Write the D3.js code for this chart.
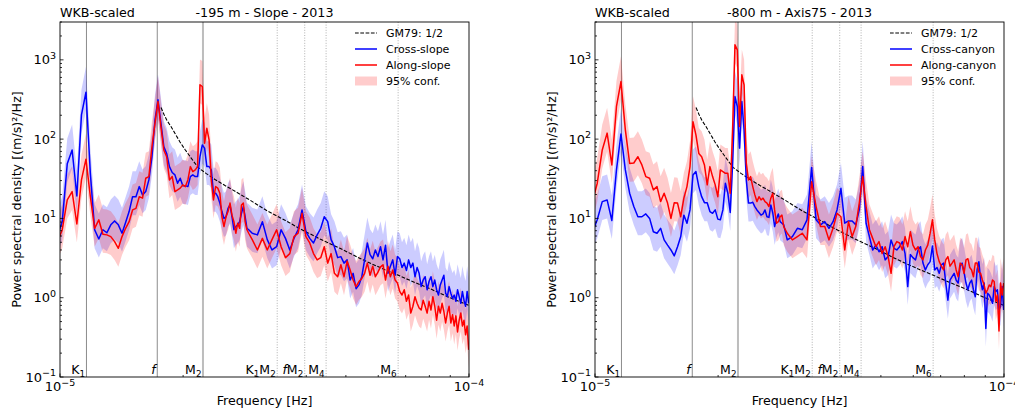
<!DOCTYPE html>
<html lang="en">
<head>
<meta charset="UTF-8">
<title>WKB-scaled velocity spectra</title>
<script src="https://d3js.org/d3.v7.min.js"></script>
<style>
  body { margin: 0; background: #fff; }
  svg { display: block; font-family: "DejaVu Sans", sans-serif; }
  .tick-label { font-size: 13px; fill: #000; }
  .title { font-size: 12.7px; fill: #000; }
  .axis-label { font-size: 12.7px; fill: #000; }
  .legend text { font-size: 11px; fill: #000; }
  .tide-label { font-size: 12.5px; fill: #000; }
</style>
</head>
<body>
<script>
// spectral resolution (40-day segments) and the frequency bins drawn
const df = 1 / (40 * 86400);
const kIndex = d3.range(34, 101).concat(d3.range(102, 346, 3));

// -195 m, Slope
const slopeCross = [
  5.9, 9.1, 48.8, 73, 19.2, 202, 391, 37, 7.2, 5.5, 7.2, 6.6, 8.3, 9.3, 8.3, 6.5, 8.9,
  12.2, 18.8, 18.8, 25.2, 19.8, 21.8, 30.6, 60.3, 175, 313, 159, 80.5, 66, 45, 37.9, 35.4,
  27.8, 32.1, 25.9, 25.9, 25.2, 33.7, 35.4, 33.7, 33.7, 60, 84.5, 76.9, 45, 45, 40.9, 20.8,
  20.8, 18.8, 15.6, 12.2, 10, 10.5, 13.4, 14.8, 10.5, 7.2, 7.9, 8.3, 9.1, 11.6, 14.1, 10.5,
  7.5, 7.2,
  6.5, 6.2, 9.1, 5.4, 4.0, 4.4, 7.2, 5.6, 4.0, 5.6, 7.2, 12.8, 6.8, 5.6, 4.9, 6.2, 7.5,
  10.5, 9.1, 5.4, 4.4, 3.2, 3.3, 2.73, 3.0, 1.67, 2.03, 1.3, 1.45, 1.84, 3.0, 4.9, 3.5,
  3.1, 4.0, 3.3, 4.4, 3.0, 4.6, 2.03, 2.5, 3.0, 1.92, 3.3, 3.1, 2.4, 2.73, 2.2, 3.0, 2.4,
  2.73, 1.84, 2.4, 2.03, 1.38, 1.67, 1.84, 1.26, 1.6, 1.84, 1.38, 1.67, 1.26, 1.08, 1.45,
  1.67, 1.92, 1.14, 1.03, 1.38, 1.14, 0.98, 1.08, 0.9, 1.26, 1.03, 0.85, 1.2, 0.93, 0.78,
  1.2, 0.85
];
const slopeAlong = [
  4.9, 7.2, 17.1, 21.8, 8.5, 30.6, 55.9, 18.8, 7.5, 9.6, 6.3, 6.2, 5.9, 5.1, 4.2, 5.9, 7.5,
  9.1, 12.8, 13.4, 18.8, 18, 32.1, 33.7, 80.5, 159, 298, 144, 73, 60, 30.6, 33.7, 21.8,
  22.9, 24.1, 26.5, 25.2, 30.6, 45, 39, 40.9, 45, 484, 461, 88.9, 137, 98, 30.6, 17.1,
  25.2, 24.1, 20.8, 10.5, 7.9, 10.5, 12.2, 15.6, 11, 9.1, 6.5, 8.7, 7.5, 14.8, 15.6, 9.1,
  7.2, 6.5,
  5.4, 4.0, 5.6, 4.0, 5.4, 7.2, 4.4, 3.2, 3.6, 5.9, 6.5, 11.6, 5.9, 4.9, 3.6, 3.0, 3.2,
  4.4, 2.73, 3.6, 2.03, 1.84, 2.6, 1.84, 2.9, 2.24, 1.67, 1.38, 1.6, 1.75, 2.03, 2.73, 1.92,
  2.5, 1.84, 2.1, 2.45, 2.6, 1.67, 2.5, 1.84, 2.24, 1.67, 1.53, 1.2, 1.08, 1.26, 0.9, 1.08,
  0.64, 0.78, 1.03, 0.85, 0.74, 0.7, 0.93, 0.78, 0.64, 0.9, 0.7, 1.03, 0.78, 0.52, 0.78,
  0.64, 0.85, 0.67, 0.48, 0.64, 0.78, 0.48, 0.61, 0.44, 0.59, 0.37, 0.52, 0.64, 0.44, 0.52,
  0.34, 0.44, 0.22
];

// -800 m, Axis75
const canyonCross = [
  6.5, 9.6, 16.3, 17.1, 9.4, 40.9, 116, 40.9, 20.8, 14.1, 10.5, 10.5, 11.4, 10, 6.8, 6.5,
  7.5, 5.36, 4.6, 4.0, 3.37, 4.4, 5.9, 11, 8.7, 12.8, 35.4, 39, 25.2, 18.8, 15.8, 15.8,
  12.2, 11.6, 12.8, 9.8, 9.6, 12.8, 27.8, 20.8, 11.9, 49.4, 344, 258, 77, 298, 131, 30.6,
  15.6, 15.6, 16, 14.1, 12.8, 11.9, 11, 11.4, 12.8, 10.5, 10.3, 14.8, 11.8, 7.9, 9.8, 11.4,
  9.1, 8.7, 8.3,
  5.36, 5.9, 7.5, 7.2, 9.6, 44, 9.6, 8.3, 9.1, 7.5, 9.1, 12.8, 24, 8.7, 9.3, 9.3, 8.3,
  12.8, 45, 8.7, 5.9, 4.0, 4.6, 3.8, 4.4, 3.0, 3.3, 5.36, 4.2, 4.0, 4.4, 5.1, 3.6, 1.38,
  3.5, 3.2, 3.0, 4.0, 4.4, 2.73, 2.24, 2.6, 2.85, 4.5, 2.24, 2.4, 2.03, 2.6, 2.73, 1.53,
  0.93, 1.67, 1.84, 2.03, 1.67, 1.53, 2.5, 2.73, 2.1, 1.53, 1.26, 1.53, 1.67, 1.26, 1.03,
  2.24, 2.85, 1.67, 1.26, 1.53, 0.41, 1.14, 1.08, 0.98, 0.85, 1.38, 1.2, 1.26, 0.7, 0.78,
  1.38, 0.7
];
const canyonAlong = [
  15.6, 27.8, 73, 119, 47.3, 258, 532, 131, 49.4, 50, 60, 47.3, 33.7, 32.1, 22.9, 25.2,
  16.3, 20.8, 15.6, 10, 15.8, 15.6, 10.5, 18, 25.2, 45, 166, 113, 66, 60, 47.3, 26.5, 45,
  33.7, 26.5, 18.8, 40.9, 39, 37.1, 37.1, 20.8, 131, 1546, 1337, 144, 647, 484, 49.4,
  30.6, 33.7, 25.2, 19.8, 16.3, 18.8, 17.1, 18, 16.3, 15.6, 14.1, 18, 20.8, 12.8, 8.7, 9.1,
  10.5, 11, 7.9,
  6.5, 5.36, 5.9, 6.5, 5.36, 29, 14.1, 7.9, 7.9, 5.36, 7.5, 11.6, 10.5, 4.0, 9.1, 5.9, 7.9,
  15.6, 33.7, 14.1, 7.2, 5.6, 4.4, 5.1, 3.6, 4.4, 3.3, 2.03, 4.4, 5.1, 4.9, 4.0, 5.9, 4.4,
  6.8, 4.6, 4.0, 4.4, 3.3, 3.0, 4.0, 4.6, 6.5, 9.6, 5.36, 3.6, 2.85, 2.5, 2.24, 3.0, 3.3,
  2.5, 2.73, 3.0, 2.24, 1.84, 2.73, 2.6, 2.03, 3.0, 3.1, 2.4, 2.24, 1.84, 2.73, 2.73, 2.1,
  2.03, 1.67, 1.45, 1.14, 1.26, 1.45, 1.38, 1.67, 1.6, 0.9, 1.08, 0.38, 1.53, 1.08, 1.53
];

// GM79 reference level (1/2)
const gmFreq = [1.766e-5, 1.796e-5, 1.826e-5, 1.868e-5, 1.911e-5, 1.965e-5, 2.021e-5,
  2.091e-5, 2.175e-5, 2.275e-5, 2.393e-5, 2.532e-5, 2.679e-5, 2.914e-5, 3.207e-5,
  3.549e-5, 3.863e-5, 4.323e-5, 4.837e-5, 5.506e-5, 6.232e-5, 6.668e-5, 7.379e-5,
  8.027e-5, 8.985e-5, 1e-4];
const gmLevel = [250, 205, 172, 144, 118, 92, 74, 58, 44, 37, 31, 26, 22, 17, 12.5, 9.5,
  7.4, 5.5, 4.2, 3.0, 2.25, 1.95, 1.55, 1.3, 1.0, 0.8];

// tidal / inertial frequencies [Hz]
const tideNames = ["K_1", "*f", "M_2", "K_1M_2", "*fM_2", "M_4", "M_6"];
const tideFreq = [1.1606e-5, 1.729e-5, 2.2365e-5, 3.397e-5, 3.966e-5, 4.473e-5, 6.71e-5];

// 95% confidence multipliers
const confLo = 0.585, confHi = 2.09;

const panels = [
  { title: "-195 m - Slope - 2013", cross: slopeCross, along: slopeAlong,
    names: ["Cross-slope", "Along-slope"] },
  { title: "-800 m - Axis75 - 2013", cross: canyonCross, along: canyonAlong,
    names: ["Cross-canyon", "Along-canyon"] }
];

const W = 1015, H = 416;
const panelLeft = [60, 595], pw = 409, plotTop = 22, plotBottom = 377;

const svg = d3.select("body").append("svg")
  .attr("width", W).attr("height", H);

const freqs = kIndex.map(k => k * df);

// writes strings like "K_1M_2" (subscripts) and "*f" (italic) as tspans
function richText(sel, str, size) {
  let shift = 0;
  for (let i = 0; i < str.length; i++) {
    let ch = str[i], sub = false, ital = false;
    if (ch === "_") { sub = true; ch = str[++i]; }
    else if (ch === "*") { ital = true; ch = str[++i]; }
    const want = sub ? 3 : 0;
    const t = sel.append("tspan").text(ch).attr("dy", want - shift);
    shift = want;
    if (sub) t.attr("font-size", size * 0.7);
    if (ital) t.attr("font-style", "italic");
  }
}

function powerLabel(sel, exp) {
  sel.append("tspan").text("10");
  sel.append("tspan").text(exp < 0 ? "\u2212" + (-exp) : exp)
    .attr("font-size", 9.5).attr("dy", -5.5);
}

panels.forEach((p, pi) => {
  const x0 = panelLeft[pi];
  const x = d3.scaleLog().domain([1e-5, 1e-4]).range([x0, x0 + pw]);
  const y = d3.scaleLog().domain([0.1, 3000]).range([plotBottom, plotTop]);

  const clipId = "clip" + pi;
  svg.append("clipPath").attr("id", clipId)
    .append("rect").attr("x", x0).attr("y", plotTop)
    .attr("width", pw).attr("height", plotBottom - plotTop);

  const g = svg.append("g");
  const plot = g.append("g").attr("clip-path", `url(#${clipId})`);

  // tidal lines
  tideFreq.forEach((f, i) => {
    const solid = i < 3, isM2 = tideNames[i] === "M_2";
    plot.append("line")
      .attr("x1", x(f)).attr("x2", x(f))
      .attr("y1", plotTop).attr("y2", plotBottom)
      .attr("stroke", isM2 ? "#bdbdbd" : (solid ? "#8c8c8c" : "#b0b0b0"))
      .attr("stroke-width", isM2 ? 2 : 1)
      .attr("stroke-dasharray", solid ? null : "1,1.6");
  });

  const rows = kIndex.map((k, i) => ({ f: freqs[i], c: p.cross[i], a: p.along[i] }));

  const band = key => d3.area()
    .x(d => x(d.f))
    .y0(d => y(d[key] * confLo))
    .y1(d => y(d[key] * confHi));
  const line = key => d3.line().x(d => x(d.f)).y(d => y(d[key]));

  plot.append("path").datum(rows).attr("d", band("c"))
    .attr("fill", "#0000ff").attr("fill-opacity", 0.2);
  plot.append("path").datum(rows).attr("d", band("a"))
    .attr("fill", "#ff0000").attr("fill-opacity", 0.2);

  plot.append("path")
    .datum(gmFreq.map((f, i) => [f, gmLevel[i]]))
    .attr("d", d3.line().x(d => x(d[0])).y(d => y(d[1])))
    .attr("fill", "none").attr("stroke", "#000").attr("stroke-width", 1.1)
    .attr("stroke-dasharray", "3.7,1.6");

  plot.append("path").datum(rows).attr("d", line("c"))
    .attr("fill", "none").attr("stroke", "#0000ff").attr("stroke-width", 1.5)
    .attr("stroke-linejoin", "round");
  plot.append("path").datum(rows).attr("d", line("a"))
    .attr("fill", "none").attr("stroke", "#ff0000").attr("stroke-width", 1.5)
    .attr("stroke-linejoin", "round");

  // tide labels at the bottom
  tideFreq.forEach((f, i) => {
    const t = g.append("text").attr("class", "tide-label")
      .attr("x", x(f) - 1.5).attr("y", 374).attr("text-anchor", "end");
    richText(t, tideNames[i], 12.5);
  });

  // ticks (pointing inward)
  const ticks = g.append("g").attr("stroke", "#000").attr("stroke-width", 0.8);
  d3.range(-1, 4).forEach(e => {
    const v = Math.pow(10, e);
    ticks.append("line").attr("x1", x0).attr("x2", x0 + 3.5)
      .attr("y1", y(v)).attr("y2", y(v));
    d3.range(2, 10).forEach(m => {
      if (m * v > 3000) return;
      ticks.append("line").attr("x1", x0).attr("x2", x0 + 2)
        .attr("y1", y(m * v)).attr("y2", y(m * v));
    });
    const lab = g.append("text").attr("class", "tick-label")
      .attr("x", x0 - 4).attr("y", y(v) + 4.5).attr("text-anchor", "end");
    powerLabel(lab, e);
  });
  [-5, -4].forEach(e => {
    const v = Math.pow(10, e);
    ticks.append("line").attr("x1", x(v)).attr("x2", x(v))
      .attr("y1", plotBottom).attr("y2", plotBottom - 3.5);
    const lab = g.append("text").attr("class", "tick-label")
      .attr("x", x(v)).attr("y", 391).attr("text-anchor", "middle");
    powerLabel(lab, e);
  });
  d3.range(2, 10).forEach(m => {
    ticks.append("line").attr("x1", x(m * 1e-5)).attr("x2", x(m * 1e-5))
      .attr("y1", plotBottom).attr("y2", plotBottom - 2);
  });

  // frame
  g.append("rect").attr("x", x0).attr("y", plotTop)
    .attr("width", pw).attr("height", plotBottom - plotTop)
    .attr("fill", "none").attr("stroke", "#000").attr("stroke-width", 0.9);

  // titles and axis labels
  g.append("text").attr("class", "title").attr("x", x0).attr("y", 17).text("WKB-scaled");
  g.append("text").attr("class", "title").attr("x", x0 + pw / 2).attr("y", 17)
    .attr("text-anchor", "middle").text(p.title);
  g.append("text").attr("class", "axis-label").attr("x", x0 + pw / 2).attr("y", 405)
    .attr("text-anchor", "middle").text("Frequency [Hz]");
  g.append("text").attr("class", "axis-label")
    .attr("transform", `translate(${x0 - 43},${(plotTop + plotBottom) / 2}) rotate(-90)`)
    .attr("text-anchor", "middle").attr("dy", "0.35em")
    .text("Power spectral density [(m/s)\u00b2/Hz]");

  // legend
  const lg = g.append("g").attr("class", "legend")
    .attr("transform", `translate(${x0 + pw - 114},33)`);
  const entries = [
    { label: "GM79: 1/2", kind: "dash" },
    { label: p.names[0], kind: "blue" },
    { label: p.names[1], kind: "red" },
    { label: "95% conf.", kind: "patch" }
  ];
  entries.forEach((e, i) => {
    const yy = i * 16;
    if (e.kind === "patch") {
      lg.append("rect").attr("x", 0).attr("y", yy - 4.5).attr("width", 22).attr("height", 9)
        .attr("fill", "#ff0000").attr("fill-opacity", 0.2);
    } else {
      lg.append("line").attr("x1", 0).attr("x2", 22).attr("y1", yy).attr("y2", yy)
        .attr("stroke", e.kind === "dash" ? "#000" : (e.kind === "blue" ? "#0000ff" : "#ff0000"))
        .attr("stroke-width", e.kind === "dash" ? 1 : 1.5)
        .attr("stroke-dasharray", e.kind === "dash" ? "3.7,1.6" : null);
    }
    lg.append("text").attr("x", 31).attr("y", yy).attr("dy", "0.35em").text(e.label);
  });
});
</script>
</body>
</html>
